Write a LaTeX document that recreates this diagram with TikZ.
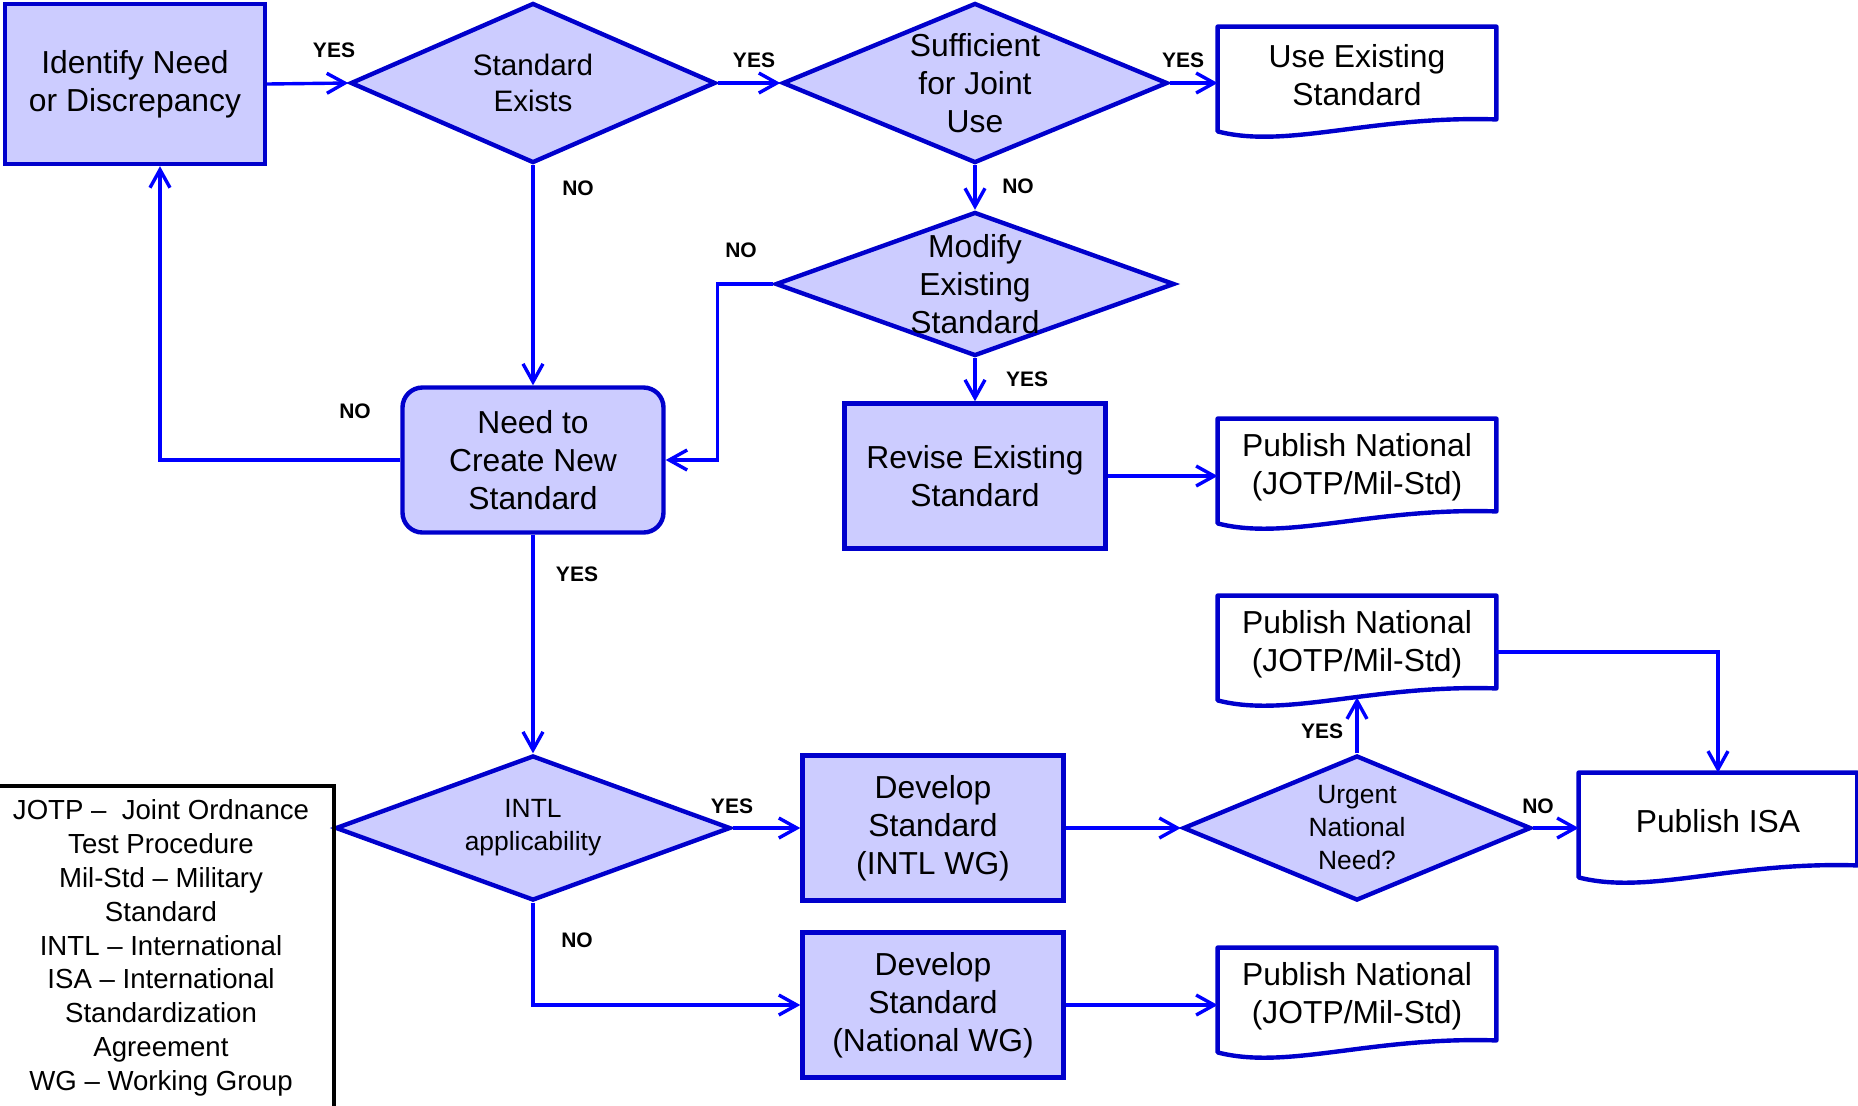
\documentclass[tikz,border=0pt]{standalone}
\usepackage{fontspec}
\setmainfont{Liberation Sans}
\usetikzlibrary{arrows.meta,calc,shapes.geometric}
\definecolor{Lav}{HTML}{CCCCFF}
\definecolor{Edge}{HTML}{0000CC}
\definecolor{Wire}{HTML}{0000FF}
\newcommand{\mainsz}{\fontsize{15.9}{19}\selectfont}
\newcommand{\smallsz}{\fontsize{13.2}{16.5}\selectfont}
\newcommand{\keysz}{\fontsize{13.8}{16.9}\selectfont}

\begin{document}
\begin{tikzpicture}[x=0.5pt,y=-0.5pt,
  font=\mainsz,
  box/.style={draw=Edge,fill=Lav,line width=2.2pt,minimum width=130.5pt,
              minimum height=72.5pt,inner sep=0pt,align=center},
  dia/.style={diamond,draw=Edge,fill=Lav,line width=2.2pt,inner sep=0pt},
  dtxt/.style={align=center,inner sep=0pt},
  doc/.style={minimum width=139pt,minimum height=48pt,inner sep=0pt,align=center},
  docline/.style={draw=Edge,line width=2.2pt,line join=round},
  lbl/.style={font=\fontsize{10.5}{12}\bfseries\selectfont,inner sep=0pt},
  ar/.style={-{Straight Barb[length=9pt,width=10pt]},Wire,line width=1.7pt}]
\useasboundingbox (0,0) rectangle (1858,1105);
\node[box,minimum width=130pt,minimum height=80pt] (idn) at (135,84) {Identify Need\\or Discrepancy};
\node[dia,minimum width=182.5pt,minimum height=80pt,
  label={[dtxt,font=\fontsize{14.8}{18}\selectfont]center:Standard\\Exists}] (std) at (533,83) {};
\node[dia,minimum width=192.5pt,minimum height=80pt,
  label={[dtxt]center:Sufficient\\for Joint\\Use}] (suf) at (975,83) {};
\node[doc] (use) at (1357,75) {Use Existing\\Standard};
\node[dia,minimum width=199.5pt,minimum height=72pt,
  label={[dtxt]center:Modify\\Existing\\Standard}] (mod) at (975,284) {};
\node[box,rounded corners=10pt] (need) at (533,460) {Need to\\Create New\\Standard};
\node[box] (rev) at (975,476) {Revise Existing\\Standard};
\node[doc] (pub1) at (1357,467) {Publish National\\(JOTP/Mil-Std)};
\node[doc] (pub2) at (1357,644) {Publish National\\(JOTP/Mil-Std)};
\node[dia,minimum width=197.5pt,minimum height=72.5pt,
  label={[dtxt,font=\smallsz]center:INTL\\applicability}] (intl) at (533,828) {};
\node[box] (devi) at (933,828) {Develop\\Standard\\(INTL WG)};
\node[dia,minimum width=174pt,minimum height=72.5pt,
  label={[dtxt,font=\smallsz]center:Urgent\\National\\Need?}] (urg) at (1357,828) {};
\node[doc] (isa) at (1718,821) {Publish ISA};
\node[box] (devn) at (933,1005) {Develop\\Standard\\(National WG)};
\node[doc] (pub3) at (1357,996) {Publish National\\(JOTP/Mil-Std)};
\node[draw=black,line width=2pt,minimum width=173pt,minimum height=162pt,
  inner sep=0pt,align=center,font=\keysz] (key) at (161,948)
  {JOTP –~ Joint Ordnance\\Test Procedure\\Mil-Std – Military\\Standard\\
   INTL – International\\ISA – International\\Standardization\\Agreement\\
   WG – Working Group};
% wavy document outlines
\foreach \n in {use,pub1,pub2,isa,pub3}
  \draw[docline] (\n.north west) -- (\n.north east) -- ($(\n.south east)+(0,-4)$)
    .. controls ($(\n.south west)!0.55!(\n.south east)+(0,-8)$)
    and ($(\n.south west)!0.25!(\n.south east)+(0,26)$) .. ($(\n.south west)+(0,8)$) -- cycle;
\coordinate (p2b) at ($(pub2.south)+(0,5)$);
\coordinate (p2r) at ($(pub2.east)+(0,8)$);
\coordinate (idb) at ($(idn.south)+(25,0)$);
\foreach \a/\b in {idn.east/std.west,std.east/suf.west,std.south/need.north,
  suf.south/mod.north,mod.south/rev.north,need.south/intl.north,
  intl.east/devi.west,devi.east/urg.west,urg.north/p2b}
  \draw[ar] (\a) -- (\b);
\draw[ar] (suf.east) -- (suf.east -| use.west);
\draw[ar] (rev.east) -- (rev.east -| pub1.west);
\draw[ar] (urg.east) -- (urg.east -| isa.west);
\draw[ar] (devn.east) -- (devn.east -| pub3.west);
\draw[ar] (mod.west) -- ++(-56,0) |- (need.east);
\draw[ar] (need.west) -| (idb);
\draw[ar] (intl.south) |- (devn.west);
\draw[ar] (p2r) -| (isa.north);
\foreach \nm/\x/\y/\t in {ly1/334/50/YES,ly2/754/60/YES,ly3/1183/60/YES,
  ln1/578/188/NO,ln2/1018/186/NO,ln3/741/250/NO,ly4/1027/379/YES,
  ln4/355/411/NO,ly5/577/574/YES,ly6/732/806/YES,ln5/577/940/NO,
  ly7/1322/731/YES,ln6/1538/806/NO}
  \node[lbl] (\nm) at (\x,\y) {\t};
\end{tikzpicture}
\end{document}
